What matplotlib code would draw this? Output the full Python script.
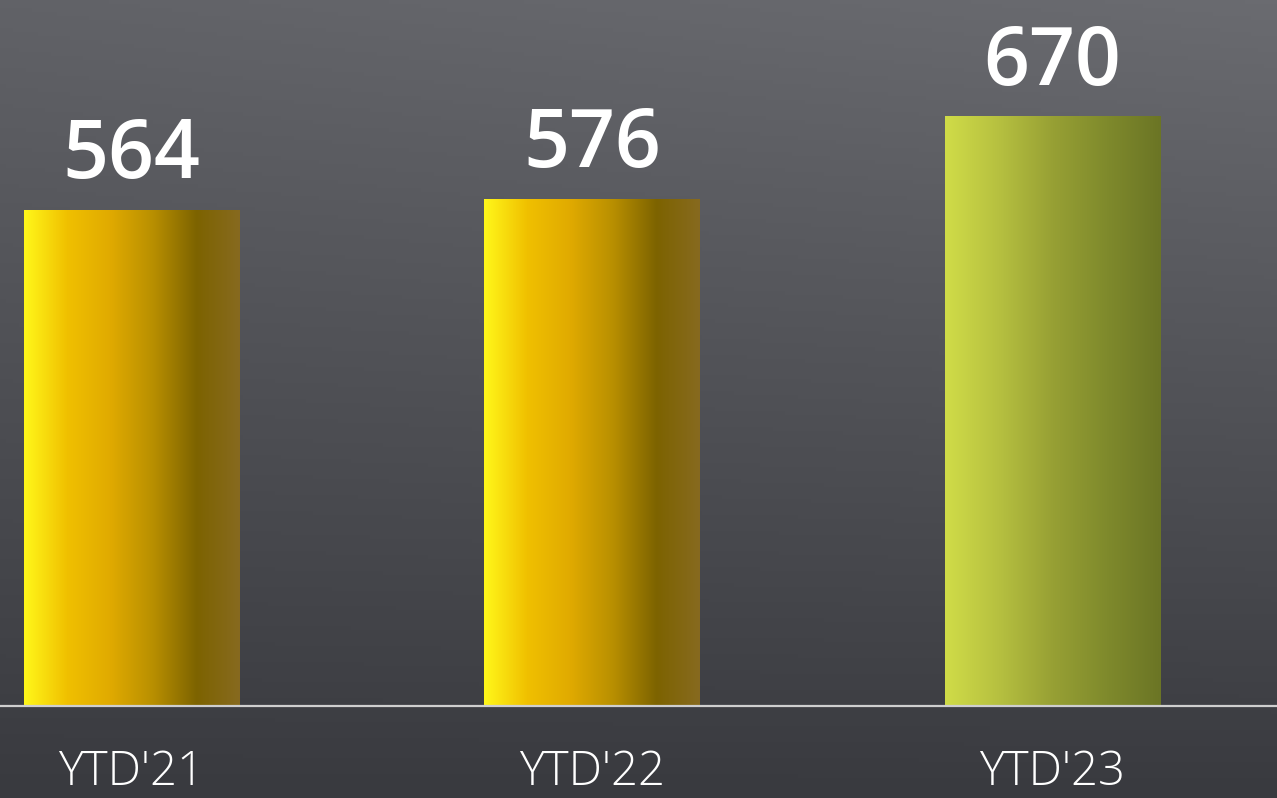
import numpy as np
import matplotlib
matplotlib.use('Agg')
import matplotlib.pyplot as plt
from matplotlib.colors import LinearSegmentedColormap

# data
labels = ["YTD'21", "YTD'22", "YTD'23"]
values = [564, 576, 670]

plt.rcParams['font.family'] = ['Open Sans', 'DejaVu Sans']

gold = LinearSegmentedColormap.from_list(
    'gold', ['#fff71a', '#f0c000', '#e0aa00', '#b88f00', '#7d6300', '#876a1f'])
olive = LinearSegmentedColormap.from_list(
    'olive', ['#d0dc48', '#b6c040', '#97a034', '#7f8a2c', '#6b7525'])
bar_cmaps = [gold, gold, olive]

fig = plt.figure(figsize=(12.77, 7.98), dpi=100)
ax = fig.add_axes([0, 0, 1, 1])

# background: dark gray, lighter toward top right
yy, xx = np.mgrid[0:1:200j, 0:1:200j]
bg = 0.55 * yy + 0.12 * xx * yy
bg_cmap = LinearSegmentedColormap.from_list('bg', ['#393a3f', '#6a6b70'])
ax.imshow(bg, cmap=bg_cmap, origin='lower', extent=[0, 1, 0, 1],
          transform=ax.transAxes, aspect='auto', zorder=0, vmin=0, vmax=0.67)

x = np.arange(len(values))
bars = ax.bar(x, values, width=0.467, color='none', zorder=2)

grad = np.linspace(0, 1, 256).reshape(1, -1)
for b, cm in zip(bars, bar_cmaps):
    x0, y0 = b.get_x(), b.get_y()
    w, h = b.get_width(), b.get_height()
    im = ax.imshow(grad, cmap=cm, extent=[x0, x0 + w, y0, y0 + h],
                   aspect='auto', zorder=2, origin='lower')
    im.set_clip_path(b)

ax.axhline(0, color='#cfcfcf', linewidth=1.6, zorder=3)

for xi, v in zip(x, values):
    ax.text(xi, v + 36, str(v), ha='center', va='baseline', color='white',
            fontsize=58, fontweight='semibold', zorder=4)

for xi, lab in zip(x, labels):
    ax.text(xi, -90, lab, ha='center', va='baseline', color='white',
            fontsize=34, fontweight='light', zorder=4)

ax.set_xlim(-0.2856, 2.4875)
ax.set_ylim(-104.5, 802.3)
ax.axis('off')

fig.savefig('out.png', dpi=100)
